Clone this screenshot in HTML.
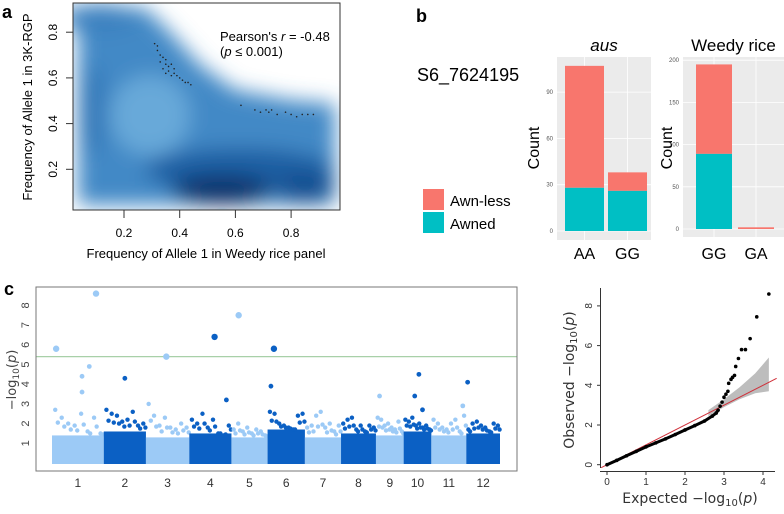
<!DOCTYPE html>
<html><head><meta charset="utf-8"><style>
body{margin:0;background:#fff;width:784px;height:509px;overflow:hidden}
svg{font-family:"Liberation Sans",sans-serif}
</style></head><body>
<svg id="fig" width="784" height="509" viewBox="0 0 784 509">
<defs>
<filter id="blur" x="-20%" y="-20%" width="140%" height="140%"><feGaussianBlur stdDeviation="10"/></filter>
<clipPath id="clipA"><rect x="73" y="3" width="267" height="207"/></clipPath>
</defs>
<!-- Panel a -->
<g>
<text x="2" y="18" font-size="18" font-weight="bold">a</text>
<g clip-path="url(#clipA)">
<rect x="73" y="3" width="267" height="207" fill="#fff"/>
<g filter="url(#blur)">
<path d="M78 8 L145 8 L168 30 L200 65 L235 90 L290 100 L335 104 L335 205 L78 205 Z" fill="#4289c6"/>
<ellipse cx="100" cy="18" rx="40" ry="14" fill="#3a80bf"/>
<ellipse cx="150" cy="115" rx="40" ry="40" fill="#68a9d9"/>
<ellipse cx="92" cy="110" rx="14" ry="45" fill="#3479b9"/>
<ellipse cx="240" cy="170" rx="95" ry="22" fill="#1e5fa3"/>
<ellipse cx="222" cy="190" rx="50" ry="15" fill="#08336b"/>
<ellipse cx="305" cy="188" rx="30" ry="15" fill="#144f91"/>
</g>
</g>
<rect x="73" y="3" width="267" height="207" fill="none" stroke="#333" stroke-width="1"/>
<g id="aTicks"></g>
<g id="aDots"></g>
<text x="220" y="41" font-size="13">Pearson's <tspan font-style="italic">r</tspan> = -0.48</text>
<text x="220" y="56" font-size="13">(<tspan font-style="italic">p</tspan> ≤ 0.001)</text>
<text x="206" y="258" font-size="13" text-anchor="middle">Frequency of Allele 1 in Weedy rice panel</text>
<text transform="translate(32,107) rotate(-90)" font-size="13" text-anchor="middle">Frequency of Allele 1 in 3K-RGP</text>
</g>
<!-- Panel b -->
<g>
<text x="416" y="22" font-size="18" font-weight="bold">b</text>
<text x="417" y="81" font-size="18">S6_7624195</text>
<rect x="423" y="189" width="21" height="21" fill="#f8766d"/>
<rect x="423" y="212" width="21" height="21" fill="#00bfc4"/>
<text x="450" y="206" font-size="15">Awn-less</text>
<text x="450" y="229" font-size="15">Awned</text>
<g id="bPlots"></g>
</g>
<!-- Panel c -->
<g>
<text x="4" y="295" font-size="18" font-weight="bold">c</text>
<g id="cPlot"></g>
<rect x="36" y="287" width="481" height="184" fill="none" stroke="#777" stroke-width="1"/>
<text transform="translate(16,380) rotate(-90)" font-size="13" text-anchor="middle" fill="#444" font-family="DejaVu Sans,sans-serif">−log<tspan font-size="9" dy="3">10</tspan><tspan dy="-3">(</tspan><tspan font-style="italic">p</tspan>)</text>
</g>
<!-- Panel d -->
<g>
<g id="dPlot"></g>
<text transform="translate(574,380) rotate(-90)" font-size="14" text-anchor="middle" fill="#333" font-family="DejaVu Sans,sans-serif">Observed   −log<tspan font-size="10" dy="3">10</tspan><tspan dy="-3">(</tspan><tspan font-style="italic">p</tspan>)</text>
<text x="690" y="503" font-size="14" text-anchor="middle" fill="#333" font-family="DejaVu Sans,sans-serif">Expected   −log<tspan font-size="10" dy="3">10</tspan><tspan dy="-3">(</tspan><tspan font-style="italic">p</tspan>)</text>
</g>
</svg>
<script>
const NS="http://www.w3.org/2000/svg";
function mk(tag,attrs,parent,text){const e=document.createElementNS(NS,tag);for(const k in attrs)e.setAttribute(k,attrs[k]);if(text!==undefined)e.textContent=text;parent.appendChild(e);return e;}

// ---- Panel a data ----
const aTickVals=[0.2,0.4,0.6,0.8];
const aDotsX=[0.31,0.32,0.33,0.33,0.34,0.34,0.35,0.35,0.36,0.36,0.37,0.37,0.38,0.38,0.39,0.40,0.41,0.42,0.43,0.44,0.32,0.35,0.62,0.67,0.69,0.71,0.72,0.73,0.75,0.78,0.80,0.82,0.84,0.86,0.88];
const aDotsY=[0.75,0.72,0.70,0.67,0.69,0.64,0.66,0.62,0.65,0.63,0.66,0.61,0.64,0.62,0.61,0.60,0.59,0.58,0.58,0.57,0.74,0.68,0.48,0.46,0.45,0.46,0.45,0.46,0.44,0.45,0.44,0.43,0.44,0.44,0.44];
const ax=v=>68.3+v*278.5, ay=v=>215-v*228.5;
const aT=document.getElementById('aTicks');
aTickVals.forEach(v=>{
  const t1=mk('line',{x1:ax(v),x2:ax(v),y1:210,y2:218,stroke:'#333'},aT);
  
  
  const l1=mk('text',{x:ax(v),y:237,'font-size':12,'text-anchor':'middle'},aT,v.toFixed(1));
  
  
  const t2=mk('line',{x1:66,x2:73,y1:ay(v),y2:ay(v),stroke:'#333'},aT);
  
  
  const l2=mk('text',{transform:`translate(57,${ay(v)}) rotate(-90)`,'font-size':12,'text-anchor':'middle'},aT,v.toFixed(1));
  
  
});
const aD=document.getElementById('aDots');
aDotsX.forEach((x,i)=>{
  const c=mk('circle',{cx:ax(x),cy:ay(aDotsY[i]),r:0.8,fill:'#222'},aD);
  
  
});

// ---- Panel b data ----
const bGenotypesAus=['AA','GG'];
const bAwnedAus=[28,26];
const bAwnlessAus=[79,12];
const bTicksAus=[0,30,60,90];
const bGenotypesWeedy=['GG','GA'];
const bAwnedWeedy=[89,0];
const bAwnlessWeedy=[106,2];
const bTicksWeedy=[0,50,100,150,200];
const bG=document.getElementById('bPlots');
function facet(name,title,italic,x0,x1,y0,y1,zeroY,pxPer,ticks,gens,awned,awnless,barX,barW,countX){
  const g=mk('g',{},bG);
  
  
  mk('rect',{x:x0,y:y0,width:x1-x0,height:y1-y0,fill:'#ebebeb'},g);
  const yv=v=>zeroY-v*pxPer;
  ticks.forEach(v=>{
    mk('line',{x1:x0,x2:x1,y1:yv(v),y2:yv(v),stroke:'#fff','stroke-width':0.8},g);
    const tl=mk('text',{x:x0-4,y:yv(v)+2,'font-size':6,'text-anchor':'end',fill:'#555'},g,v);
    
    
  });
  gens.forEach((gname,i)=>{
    const cx=barX[i]+barW/2;
    mk('line',{x1:cx,x2:cx,y1:y0,y2:y1,stroke:'#fff','stroke-width':0.8},g);
    const r1=mk('rect',{x:barX[i],y:yv(awned[i]+awnless[i]),width:barW,height:awnless[i]*pxPer,fill:'#f8766d'},g);
    
    
    const r2=mk('rect',{x:barX[i],y:yv(awned[i]),width:barW,height:awned[i]*pxPer,fill:'#00bfc4'},g);
    
    
    const xl=mk('text',{x:cx,y:259,'font-size':16,'text-anchor':'middle'},g,gname);
    
    
  });
  const t=mk('text',{x:(x0+x1)/2,y:51,'font-size':17,'text-anchor':'middle','font-style':italic?'italic':'normal'},g,title);
  
  
  const ct=mk('text',{transform:`translate(${countX},148) rotate(-90)`,'font-size':16,'text-anchor':'middle'},g,'Count');
  
  
}
facet('facet-aus','aus',true,557,651,57,240,231,46.3/30,bTicksAus,bGenotypesAus,bAwnedAus,bAwnlessAus,[565,608],39,539);
facet('facet-weedy','Weedy rice',false,683,784,57,237,229,42.2/50,bTicksWeedy,bGenotypesWeedy,bAwnedWeedy,bAwnlessWeedy,[696,738],36,672);

// ---- Panel c data ----
const chrLabels=['1','2','3','4','5','6','7','8','9','10','11','12'];
const chrLengths=[43,35,36,35,30,31,30,29,23,23,29,28];
const chrMassTop=[1.4,1.6,1.3,1.5,1.3,1.7,1.3,1.5,1.4,1.6,1.4,1.5];
const chrTailVals=[[2.7,2.3,2.0,1.9,2.5,1.6,2.3,1.5],[2.7,2.5,2.4,2.1,2.2,2.6,1.9,2.0],[3.0,2.4,1.9,2.3,1.8,1.7,2.0,1.8],[2.2,2.0,2.5,1.8,2.2,1.5,1.4,1.9],[1.7,2.0,1.6,1.8,1.5,1.7,1.6,1.4],[2.6,2.5,2.0,1.9,1.8,1.7,2.4,2.5],[1.8,1.9,2.4,2.6,1.8,2.0,1.6,1.9],[2.0,2.2,2.3,1.7,1.9,1.6,1.9,1.8],[2.3,2.2,1.9,2.0,1.8,1.7,2.1,1.6],[2.2,2.1,2.3,1.9,2.0,1.8,1.9,1.7],[2.2,2.0,1.8,1.7,2.0,2.2,1.6,2.4],[1.7,2.0,2.1,1.9,1.8,1.6,2.0,1.9]];
const hitChr=[1,1,1,1,1,2,3,4,4,5,6,6,9,10,10,10,11,12];
const hitPos=[0.08,0.58,0.58,0.72,0.85,0.5,0.47,0.6,0.88,0.2,0.17,0.09,0.13,0.55,0.4,0.68,0.9,0.04];
const hitVal=[5.8,4.4,3.6,4.9,8.6,4.3,5.4,6.4,3.2,7.5,5.8,3.9,3.4,4.5,3.4,2.7,2.9,4.1];
const threshold=5.4;
const cTicks=[1,2,3,4,5,6,7,8];
const cx0=52,cx1=500;
const totalLen=chrLengths.reduce((a,b)=>a+b,0);
const chrStart=[];let acc=0;chrLengths.forEach(l=>{chrStart.push(acc);acc+=l;});
const cxs=(chr,pos)=>cx0+(chrStart[chr-1]+pos*chrLengths[chr-1])/totalLen*(cx1-cx0);
const cy=v=>463-v*19.7;
const cP=document.getElementById('cPlot');
const light='#9ccaf6',dark='#0b60c4';
cTicks.forEach(v=>{
  const t=mk('text',{transform:`translate(29,${cy(v)}) rotate(-90)`,'font-size':11,'text-anchor':'middle',fill:'#444'},cP,v);
  
  
});
chrLabels.forEach((lab,i)=>{
  const col=i%2===0?light:dark;
  const xa=cxs(i+1,0), xb=cxs(i+1,1);
  const r=mk('rect',{x:xa,y:cy(chrMassTop[i]),width:xb-xa,height:cy(0)-cy(chrMassTop[i])+1,fill:col},cP);
  
  
  chrTailVals[i].forEach((v,j)=>{
    const c=mk('circle',{cx:cxs(i+1,(j+0.5)/chrTailVals[i].length),cy:cy(v),r:2.2,fill:col},cP);
    
    
    const c2=mk('circle',{cx:cxs(i+1,(j+0.9)/chrTailVals[i].length),cy:cy((v+chrMassTop[i])/2),r:2.2,fill:col},cP);
    
    
  });
  const l=mk('text',{x:cxs(i+1,0.5),y:487,'font-size':12,'text-anchor':'middle',fill:'#333'},cP,lab);
  
  
});
const thr=mk('line',{x1:36,x2:517,y1:cy(threshold),y2:cy(threshold),stroke:'#a8d0a8','stroke-width':1.2},cP);


hitChr.forEach((ch,i)=>{
  const v=hitVal[i];
  const c=mk('circle',{cx:cxs(ch,hitPos[i]),cy:cy(v),r:v>5?3.2:2.4,fill:ch%2===1?light:dark},cP);
  
  
});

// ---- Panel d data ----
const qqExpected=[0,0.25,0.5,0.75,1,1.25,1.5,1.75,2,2.25,2.5,2.7,2.8,2.85,2.9,2.95,3.0,3.05,3.1,3.12,3.18,3.22,3.27,3.3,3.37,3.45,3.55,3.67,3.84,4.15];
const qqObserved=[0,0.22,0.45,0.67,0.9,1.1,1.3,1.52,1.75,1.97,2.2,2.45,2.6,2.75,2.95,3.15,3.4,3.55,3.7,4.1,4.3,4.4,4.5,4.95,5.35,5.8,5.8,6.35,7.45,8.6];
const ciExpected=[2.6,3.0,3.4,3.8,4.15];
const ciUpper=[2.75,3.3,3.9,4.6,5.4];
const ciLower=[2.45,2.9,3.3,3.6,3.7];
const dTicksX=[0,1,2,3,4];
const dTicksY=[0,2,4,6,8];
const dx=v=>607+v*39, dy=v=>464.7-v*19.85;
const dP=document.getElementById('dPlot');
let band='M'+ciExpected.map((e,i)=>dx(e)+' '+dy(ciUpper[i])).join(' L ')+' L '+ciExpected.slice().reverse().map((e,i)=>dx(e)+' '+dy(ciLower[ciLower.length-1-i])).join(' L ')+' Z';
const b=mk('path',{d:band,fill:'#bdbdbd'},dP);


const ref=mk('line',{x1:dx(-0.15),y1:dy(-0.15),x2:dx(4.35),y2:dy(4.35),stroke:'#d0303a','stroke-width':1},dP);


const dense=qqExpected.filter(e=>e<=2.85);
const pl=mk('polyline',{points:dense.map((e,i)=>dx(e)+','+dy(qqObserved[i])).join(' '),fill:'none',stroke:'#000','stroke-width':3},dP);


qqExpected.forEach((e,i)=>{
  const c=mk('circle',{cx:dx(e),cy:dy(qqObserved[i]),r:1.8,fill:'#000'},dP);
  
  
});
mk('line',{x1:600.5,x2:600.5,y1:288,y2:468,stroke:'#333'},dP);
mk('line',{x1:600,x2:775,y1:471.5,y2:471.5,stroke:'#333'},dP);
dTicksX.forEach(v=>{
  mk('line',{x1:dx(v),x2:dx(v),y1:471.5,y2:475,stroke:'#333'},dP);
  const t=mk('text',{x:dx(v),y:485,'font-size':10,'text-anchor':'middle',fill:'#333'},dP,v);
  
  
});
dTicksY.forEach(v=>{
  mk('line',{x1:597,x2:600.5,y1:dy(v),y2:dy(v),stroke:'#333'},dP);
  const t=mk('text',{transform:`translate(592,${dy(v)}) rotate(-90)`,'font-size':10,'text-anchor':'middle',fill:'#333'},dP,v);
  
  
});
</script>
</body></html>
